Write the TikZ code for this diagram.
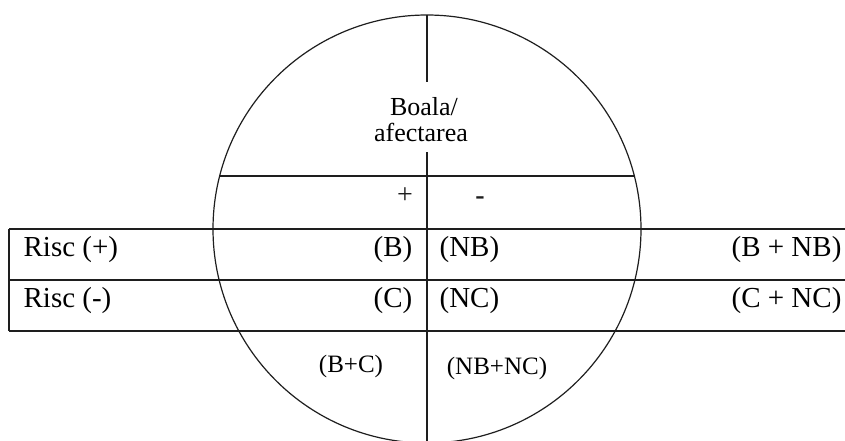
\documentclass[tikz,border=0pt]{standalone}
\usepackage{fontspec}
\setmainfont{Liberation Serif}
\definecolor{ink}{HTML}{1E1E1E}

\begin{document}
\begin{tikzpicture}[x=1pt,y=-1pt,line width=1.2pt,color=ink,
  big/.style={inner sep=0pt,text=black,font=\fontsize{29}{34}\selectfont},
  mid/.style={inner sep=0pt,text=black,font=\fontsize{26}{28}\selectfont},
  sml/.style={inner sep=0pt,text=black,font=\fontsize{25}{28}\selectfont}]
\useasboundingbox (0,0) rectangle (845,441);
% the disease circle
\node[circle,draw,minimum size=428pt,inner sep=0pt,outer sep=0pt] (disc) at (427,229) {};
\node[mid,anchor=base] (boala) at (424,116) {Boala/};
\node[mid,anchor=base] (afect) at (421,141) {afectarea};
\coordinate (vtop) at (427,82);
\coordinate (vbot) at (427,152);
\coordinate (hl) at (219.7,176);
\coordinate (hr) at (634.3,176);
\draw (disc.north)--(vtop);
\draw (vbot)--(disc.south);
\draw (hl)--(hr);
\draw[line width=2.8pt] (disc.west)--(disc.east);
\node[inner sep=0pt,anchor=base,font=\fontsize{28}{30}\selectfont] (plus) at (405,203) {+};
\node[inner sep=0pt,anchor=base,font=\fontsize{28}{30}\bfseries] (minus) at (480,204) {-};
% risk table
\coordinate (t1) at (9,229);
\coordinate (t2) at (9,280);
\coordinate (t3) at (9,331);
\foreach \r in {t1,t2,t3}
  \draw[line width=1.5pt] (\r)--(\r -| 845,0);
\draw[line width=1.5pt] (t1)--(t3);
\node[big,anchor=base west] (riscp) at (23,256) {Risc (+)};
\node[big,anchor=base west] (riscm) at (23,307) {Risc (-)};
\node[big,anchor=base east] (b) at (413,256) {(B)};
\node[big,anchor=base west] (nb) at (439,256) {(NB)};
\node[big,anchor=base east] (c) at (413,307) {(C)};
\node[big,anchor=base west] (nc) at (439,307) {(NC)};
\node[big,anchor=base east] (bnb) at (842,256) {(B + NB)};
\node[big,anchor=base east] (cnc) at (842,307) {(C + NC)};
% column sums
\node[sml,anchor=base] (bc) at (351,372) {(B+C)};
\node[sml,anchor=base] (nbnc) at (497,374) {(NB+NC)};
\end{tikzpicture}
\end{document}
